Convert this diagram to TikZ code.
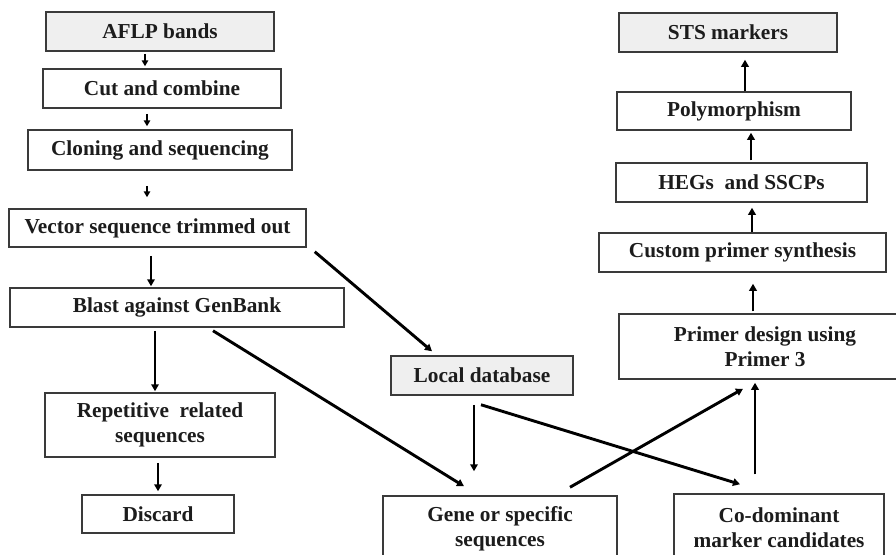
\documentclass[tikz,border=0pt]{standalone}
\usepackage{fontspec}
\setmainfont{Liberation Serif}
\usetikzlibrary{arrows.meta,calc}
\definecolor{boxc}{HTML}{3A3A3A}
\definecolor{txt}{HTML}{1C1C1C}
\definecolor{shade}{HTML}{EFEFEF}
\begin{document}
\begin{tikzpicture}[x=1pt,y=-1pt,
  box/.style={draw=boxc, line width=1.5pt, fill=white, text=txt,
    font=\fontsize{21.3}{25}\selectfont\bfseries, align=center, inner sep=0pt},
  shaded/.style={box, fill=shade},
  arr/.style={draw=black, line width=2.9pt, -{Triangle[length=7pt,width=7.5pt]}},
  arrs/.style={draw=black, line width=2.3pt, -{Triangle[length=6pt,width=6.5pt]}}
]
\useasboundingbox (0,0) rectangle (896,554);
\clip (0,0) rectangle (896,554);
\fill[white] (0,0) rectangle (896,554);

% left column
\node[shaded, minimum width=228pt, minimum height=39pt] (aflp) at (160,31.5) {AFLP bands};
\node[box, minimum width=238pt, minimum height=39pt] (cut) at (162,88.5) {Cut and combine};
\node[box, minimum width=264pt, minimum height=40pt] (clon) at (160,150) {Cloning and sequencing};
\node[box, minimum width=297pt, minimum height=38pt] (vec) at (157.5,228) {Vector sequence trimmed out};
\node[box, minimum width=334pt, minimum height=39pt] (blast) at (177,307.5) {Blast against GenBank};
\node[box, minimum width=230pt, minimum height=64pt] (rep) at (160,425) {Repetitive~ related\\sequences};
\node[box, minimum width=152pt, minimum height=38pt] (disc) at (158,514) {Discard};

% middle / bottom
\node[shaded, minimum width=182pt, minimum height=39pt] (local) at (482,375.5) {Local database};
\node[box, minimum width=234pt, minimum height=66pt] (gene) at (500,529) {Gene or specific\\sequences};
\node[box, minimum width=210pt, minimum height=68pt] (codom) at (779,528) {Co-dominant\\marker candidates};

% right column
\node[box, minimum width=292pt, minimum height=65pt] (primer) at (765,346.5) {Primer design using\\Primer 3};
\node[box, minimum width=287pt, minimum height=39pt] (custom) at (742.5,252.5) {Custom primer synthesis};
\node[box, minimum width=251pt, minimum height=39pt] (hegs) at (741.5,182.5) {HEGs~ and SSCPs};
\node[box, minimum width=234pt, minimum height=38pt] (poly) at (734,111) {Polymorphism};
\node[shaded, minimum width=218pt, minimum height=39pt] (sts) at (728,32.5) {STS markers};

% connectors, left column
\draw[arrs] ($(aflp.south)+(-15,2)$) -- ($(cut.north)+(-17,-2)$);
\draw[arrs] ($(cut.south)+(-15,5)$) -- ($(clon.north)+(-13,-3)$);
\draw[arrs] ($(clon.south)+(-13,15)$) -- ($(vec.north)+(-10.5,-11)$);
\draw[arr] ($(vec.south)+(-6.5,8)$) -- ($(blast.north)+(-26,-1)$);
\draw[arr] ($(blast.south)+(-22,3)$) -- ($(rep.north)+(-5,-1)$);
\draw[arr] ($(rep.south)+(-2,5)$) -- ($(disc.north)+(0,-3)$);

% diagonal connectors
\draw[arr] ($(vec.south east)+(8,4)$) -- ($(local.north)+(-50,-4)$);
\draw[arr] ($(blast.south)+(36,3)$) -- ($(gene.north)+(-36,-9)$);
\draw[arr] ($(local.south)+(-8,9)$) -- ($(gene.north)+(-26,-24)$);
\draw[arr] ($(local.south)+(-1,9)$) -- ($(codom.north)+(-39,-9)$);
\draw[arr] ($(gene.north)+(70,-8)$) -- ($(primer.south)+(-22,9)$);
\draw[arr] ($(codom.north)+(-24,-19)$) -- ($(primer.south)+(-10,3)$);

% right column
\draw[arr] ($(primer.north)+(-12,-2)$) -- ($(custom.south)+(10.5,11)$);
\draw[arr] ($(custom.north)+(9.5,0)$) -- ($(hegs.south)+(10.5,5)$);
\draw[arr] ($(hegs.north)+(9.5,-2)$) -- ($(poly.south)+(17,2)$);
\draw[arr] ($(poly.north)+(11,0)$) -- ($(sts.south)+(17,7)$);
\end{tikzpicture}
\end{document}
